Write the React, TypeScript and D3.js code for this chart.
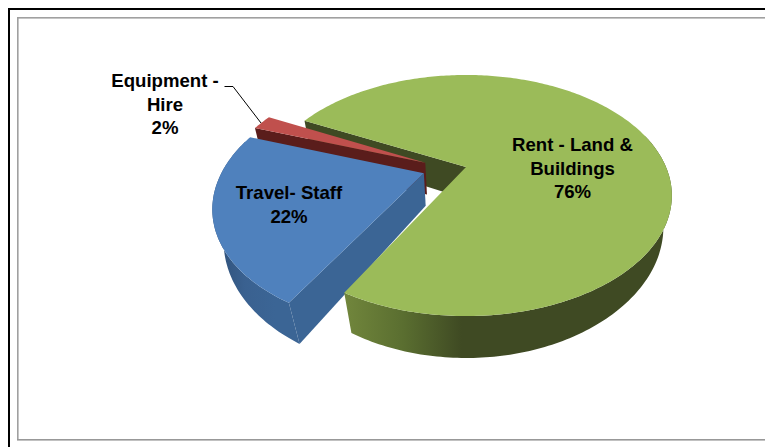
import React from "react";
import * as d3 from "d3";

const categories = ["Rent - Land & Buildings", "Travel- Staff", "Equipment - Hire"];
const values = [75.6, 22.4, 2.0];
const labelLines = [
  ["Rent - Land &", "Buildings", "76%"],
  ["Travel- Staff", "22%"],
  ["Equipment -", "Hire", "2%"],
];

const W = 765, H = 447;
const topColors = ["#9BBB59", "#4F81BD", "#C0504D"];
const edgeColors = ["#3F4A23", "#3B6595", "#5A1D1B"];
const wallStops = [
  ["#71863C", "#5A6E30", "#3F4A23", "#3F4A23"],
  ["#2F5078", "#3A6190", "#3B6595", "#3B6595"],
  ["#5A1D1B", "#5A1D1B", "#5A1D1B", "#5A1D1B"],
];
const explodeBy = [0, 0.215, 0.209];
const explodeTurnDeg = [0, 6, -12.6];
const labelPos = [
  { x: 572.5, y: 151 },
  { x: 289, y: 199 },
  { x: 165, y: 87 },
];
const lineGap = 23.5;
const cx = 466, cy = 167, R = 200, Rt = 113.8, k = 0.2366, depth = 32;
const vx = 470, vy = 1000;

type P = [number, number];
const toRad = (d: number) => (d * Math.PI) / 180;
const startDeg = 296.7;

function project(X: number, Y: number): { p: P; w: number } {
  const w = 1 + k * Y;
  return { p: [cx + (R * X) / w, cy - (Rt * Y) / w], w };
}
function top(a: number, r: number, off: P): P {
  return project(r * Math.sin(a) + off[0], r * Math.cos(a) + off[1]).p;
}
function bottom(a: number, r: number, off: P): P {
  const { p, w } = project(r * Math.sin(a) + off[0], r * Math.cos(a) + off[1]);
  const drop = depth / w;
  return [p[0] + ((vx - p[0]) / (vy - p[1])) * drop, p[1] + drop];
}

const line = d3.line<P>().curve(d3.curveLinear);
const closed = (pts: P[]) => (line(pts) ?? "") + "Z";

export default function App() {
  const arcs = d3
    .pie<number>()
    .sort(null)
    .startAngle(toRad(startDeg))
    .endAngle(toRad(startDeg) + 2 * Math.PI)(values);

  const slices = arcs.map((a, i) => {
    const mid = (a.startAngle + a.endAngle) / 2 + toRad(explodeTurnDeg[i]);
    const off: P = [explodeBy[i] * Math.sin(mid), explodeBy[i] * Math.cos(mid)];
    const n = Math.max(8, Math.round((a.endAngle - a.startAngle) * 60));
    const angles = d3.range(n + 1).map((j) => a.startAngle + ((a.endAngle - a.startAngle) * j) / n);
    const rimTop = angles.map((t) => top(t, 1, off));
    const front = angles.filter((t) => Math.cos(t) < 0.3);
    const frontTop = front.map((t) => top(t, 1, off));
    const frontBottom = front.map((t) => bottom(t, 1, off));
    const apexTop = top(0, 0, off);
    const apexBottom = bottom(0, 0, off);
    return {
      i,
      surface: closed([apexTop, ...rimTop]),
      outer: closed([...frontTop, ...[...frontBottom].reverse()]),
      edge: closed([apexTop, rimTop[0], bottom(a.startAngle, 1, off), apexBottom]),
    };
  });

  const [green, blue, red] = slices;
  const x0 = [345, 215, 255];
  const x1 = [520, 305, 270];

  const drawBody = (s: (typeof slices)[number]) => (
    <g key={s.i}>
      <path d={s.edge} fill={edgeColors[s.i]} />
      <path d={s.outer} fill={`url(#wall${s.i})`} />
      <path d={s.surface} fill={topColors[s.i]} />
    </g>
  );

  const leader = d3.line<P>()([
    [224.5, 86.5],
    [233, 86.5],
    [261, 123],
  ]);

  return (
    <svg
      width={W}
      height={H}
      style={{ position: "fixed", left: 0, top: 0, display: "block", background: "#fff" }}
      fontFamily="'Liberation Sans', Arial, sans-serif"
    >
      <defs>
        {wallStops.map((st, i) => (
          <linearGradient
            key={i}
            id={`wall${i}`}
            gradientUnits="userSpaceOnUse"
            x1={x0[i]}
            x2={x1[i]}
            y1={0}
            y2={0}
          >
            {st.map((c, j) => (
              <stop key={j} offset={j / (st.length - 1)} stopColor={c} />
            ))}
          </linearGradient>
        ))}
      </defs>

      <rect x={8} y={8} width={W} height={2} fill="#000" />
      <rect x={8} y={8} width={2} height={H} fill="#000" />
      <rect x={17} y={17} width={W} height={1.6} fill="#A0A0A0" />
      <rect x={17} y={17} width={1.6} height={423} fill="#A0A0A0" />
      <rect x={17} y={439} width={W} height={1.6} fill="#989898" />

      <path d={green.edge} fill={edgeColors[0]} />
      {drawBody(red)}
      {drawBody(blue)}
      <path d={green.outer} fill="url(#wall0)" />
      <path d={green.surface} fill={topColors[0]} />

      <path d={leader ?? ""} fill="none" stroke="#000" strokeWidth={1} />

      {labelLines.map((lines, i) => (
        <text
          key={categories[i]}
          textAnchor="middle"
          fontSize={18.6}
          fontWeight={700}
          fill="#000"
        >
          {lines.map((t, j) => (
            <tspan key={j} x={labelPos[i].x} y={labelPos[i].y + j * lineGap}>
              {t}
            </tspan>
          ))}
        </text>
      ))}
    </svg>
  );
}
